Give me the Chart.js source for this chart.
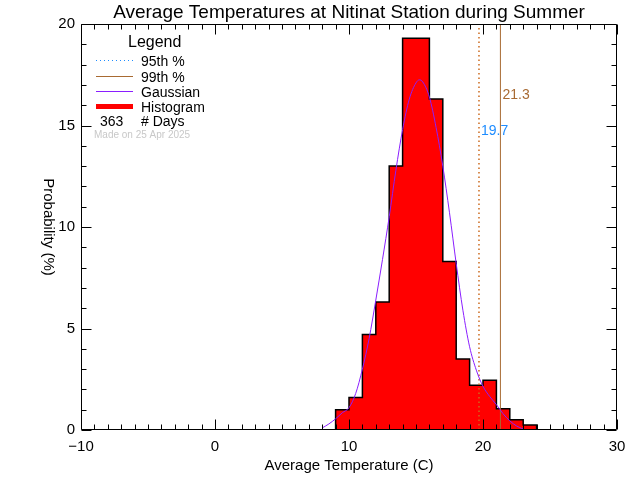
<!DOCTYPE html>
<html>
<head>
<meta charset="utf-8">
<script src="https://cdn.jsdelivr.net/npm/chart.js@4.4.1/dist/chart.umd.min.js"></script>
<style>
    html, body { margin: 0; background: #fff; }
</style>
</head>
<body>
<canvas id="chart" width="640" height="480"></canvas>
<script>
// Histogram bins (edges in C) and probability (%) per bin
const binEdges = [9, 10, 11, 12, 13, 14, 15, 16, 17, 18, 19, 20, 21, 22, 23, 24];
const histValues = [1.0, 1.6, 4.7, 6.3, 13.0, 19.3, 19.3, 16.3, 8.3, 3.5, 2.2, 2.45, 1.05, 0.5, 0.25];

// Gaussian fit
const gaussX = [8, 8.5, 9, 9.5, 10, 10.5, 11, 11.5, 12, 12.5, 13, 13.5, 14, 14.5, 15, 15.25, 15.5, 16, 16.5, 17, 17.5, 18, 18.5, 19, 19.5, 20, 20.5, 21, 21.5, 22, 22.5, 23];
const gaussY = [0.1, 0.3, 0.55, 0.85, 1.1, 1.8, 3.0, 4.5, 6.4, 8.4, 10.5, 12.8, 14.8, 16.3, 17.1, 17.25, 17.15, 16.4, 14.9, 13.0, 10.7, 8.2, 5.9, 4.1, 2.95, 2.15, 1.65, 1.25, 0.8, 0.45, 0.2, 0.05];

const p95 = 19.7;
const p99 = 21.3;
const nDays = 363;

const xTicks = [-10, 0, 10, 20, 30];
const yTicks = [0, 5, 10, 15, 20];

const FONT = '"Liberation Sans", Arial, sans-serif';
const C95 = '#cc6a1e';
const C99 = '#a86a32';
const C95_LABEL = '#1e8cff';
const CGAUSS = '#8a1eff';

// step outline of the histogram
const stepPts = [{ x: binEdges[0], y: 0 }];
histValues.forEach((v, i) => stepPts.push({ x: binEdges[i], y: v }));
stepPts.push({ x: binEdges[binEdges.length - 1], y: 0 });

const frameTicks = {
    id: 'frameTicks',
    afterDraw(chart) {
        const { ctx, chartArea: a, scales: { x, y } } = chart;
        const L = Math.round(a.left) + 0.5, R = Math.round(a.right) - 0.5;
        const T = Math.round(a.top) + 0.5, B = Math.round(a.bottom) - 0.5;
        ctx.save();
        ctx.strokeStyle = '#000';
        ctx.lineWidth = 1;
        ctx.beginPath();
        ctx.rect(L, T, R - L, B - T);
        for (let v = x.min; v <= x.max; v += 1) {
            const px = Math.round(x.getPixelForValue(v)) + 0.5;
            const len = xTicks.includes(v) ? 10 : 5;
            ctx.moveTo(px, B); ctx.lineTo(px, B - len);
            ctx.moveTo(px, T); ctx.lineTo(px, T + len);
        }
        for (let v = y.min; v <= y.max; v += 1) {
            const py = Math.round(y.getPixelForValue(v)) + 0.5;
            const len = yTicks.includes(v) ? 10 : 5;
            ctx.moveTo(L, py); ctx.lineTo(L + len, py);
            ctx.moveTo(R, py); ctx.lineTo(R - len, py);
        }
        ctx.stroke();

        // y axis title, reads top to bottom
        ctx.fillStyle = '#000';
        ctx.font = '15px ' + FONT;
        ctx.textAlign = 'center';
        ctx.textBaseline = 'middle';
        ctx.translate(48, (a.top + a.bottom) / 2);
        ctx.rotate(Math.PI / 2);
        ctx.fillText('Probability (%)', 0, 0);
        ctx.restore();

        // percentile labels
        ctx.save();
        ctx.font = '14px ' + FONT;
        ctx.textBaseline = 'middle';
        ctx.fillStyle = C99;
        ctx.fillText(p99.toFixed(1), x.getPixelForValue(p99) + 2, y.getPixelForValue(16.5));
        ctx.fillStyle = C95_LABEL;
        ctx.fillText(p95.toFixed(1), x.getPixelForValue(p95) + 2, y.getPixelForValue(14.7));
        ctx.restore();

        // legend
        ctx.save();
        ctx.fillStyle = '#000';
        ctx.textBaseline = 'middle';
        ctx.font = '16px ' + FONT;
        ctx.fillText('Legend', 128, 43);
        ctx.font = '14px ' + FONT;
        const rows = [
            { y: 60, text: '95th %', color: C95_LABEL, width: 1, dash: [1, 3] },
            { y: 76, text: '99th %', color: C99, width: 1, dash: [] },
            { y: 91, text: 'Gaussian', color: CGAUSS, width: 1, dash: [] },
            { y: 106, text: 'Histogram', color: '#ff0000', width: 5, dash: [] }
        ];
        rows.forEach(r => {
            ctx.strokeStyle = r.color;
            ctx.lineWidth = r.width;
            ctx.setLineDash(r.dash);
            ctx.beginPath();
            ctx.moveTo(96, r.y + 0.5);
            ctx.lineTo(133, r.y + 0.5);
            ctx.stroke();
            ctx.fillText(r.text, 141, r.y + 2);
        });
        ctx.fillText(String(nDays), 100, 122);
        ctx.fillText('# Days', 141, 122);
        ctx.fillStyle = '#c8c8c8';
        ctx.font = '10px ' + FONT;
        ctx.fillText('Made on 25 Apr 2025', 94, 135);
        ctx.restore();
    }
};

new Chart(document.getElementById('chart'), {
    type: 'line',
    data: {
        datasets: [
            {
                label: 'Gaussian',
                data: gaussX.map((v, i) => ({ x: v, y: gaussY[i] })),
                borderColor: CGAUSS,
                borderWidth: 1,
                pointRadius: 0,
                cubicInterpolationMode: 'monotone',
                order: 1
            },
            {
                label: '99th %',
                data: [{ x: p99, y: 0 }, { x: p99, y: 20 }],
                borderColor: C99,
                borderWidth: 1,
                pointRadius: 0,
                order: 2
            },
            {
                label: '95th %',
                data: [{ x: p95, y: 0 }, { x: p95, y: 20 }],
                borderColor: C95,
                borderWidth: 1.5,
                borderDash: [1.5, 3],
                pointRadius: 0,
                order: 3
            },
            {
                label: 'Histogram',
                data: stepPts,
                stepped: 'before',
                borderColor: '#000',
                borderWidth: 1.5,
                backgroundColor: '#ff0000',
                fill: 'origin',
                pointRadius: 0,
                order: 4
            }
        ]
    },
    options: {
        responsive: false,
        animation: false,
        devicePixelRatio: 1,
        events: [],
        layout: { padding: { top: 0, right: 23, bottom: 0, left: 0 } },
        plugins: {
            legend: { display: false },
            tooltip: { enabled: false },
            title: {
                display: true,
                text: 'Average Temperatures at Nitinat Station during Summer',
                fullSize: false,
                color: '#000',
                font: { family: FONT, size: 19, weight: 'normal' },
                padding: { top: 1.2, bottom: 0 }
            }
        },
        scales: {
            x: {
                type: 'linear',
                min: -10,
                max: 30,
                afterBuildTicks: s => { s.ticks = xTicks.map(v => ({ value: v })); },
                afterFit: s => { s.height = 50; },
                grid: { display: false, drawTicks: false },
                border: { display: false },
                ticks: {
                    color: '#000',
                    padding: 8,
                    font: { family: FONT, size: 15 },
                    callback: v => String(v).replace('-', '\u2212')
                },
                title: {
                    display: true,
                    text: 'Average Temperature (C)',
                    color: '#000',
                    font: { family: FONT, size: 15 },
                    padding: { top: 0, bottom: 5 }
                }
            },
            y: {
                type: 'linear',
                min: 0,
                max: 20,
                afterBuildTicks: s => { s.ticks = yTicks.map(v => ({ value: v })); },
                afterFit: s => { s.width = 81; },
                grid: { display: false, drawTicks: false },
                border: { display: false },
                ticks: {
                    color: '#000',
                    padding: 6,
                    font: { family: FONT, size: 15 }
                }
            }
        }
    },
    plugins: [frameTicks]
});
</script>
</body>
</html>
